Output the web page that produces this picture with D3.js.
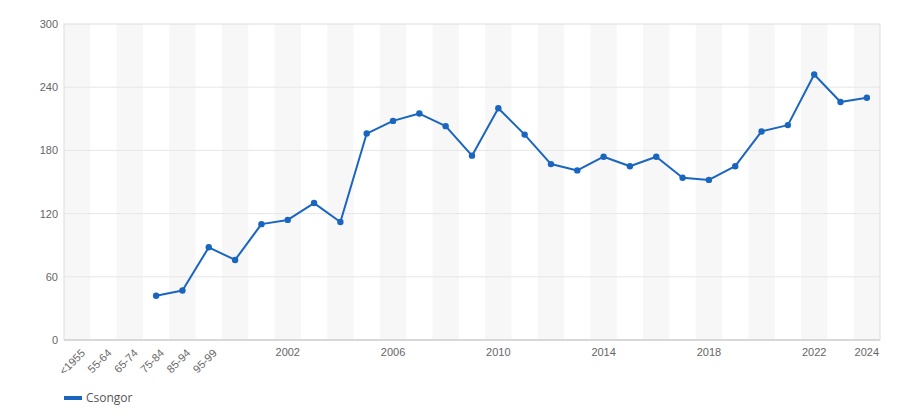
<!DOCTYPE html>
<html lang="en">
<head>
<meta charset="UTF-8">
<title>Csongor</title>
<script src="https://d3js.org/d3.v7.min.js"></script>
<style>
  body { margin: 0; background: #fff; font-family: "Open Sans", "Noto Sans", sans-serif; }
  .tick text { fill: #666; font-size: 11px; }
</style>
</head>
<body>
<div id="chart"></div>
<script>
// categories on the x axis
const categories = ["<1955", "55-64", "65-74", "75-84", "85-94", "95-99",
  "2000", "2001", "2002", "2003", "2004", "2005", "2006", "2007", "2008", "2009",
  "2010", "2011", "2012", "2013", "2014", "2015", "2016", "2017", "2018", "2019",
  "2020", "2021", "2022", "2023", "2024"];
// values per category (null = no data)
const values = [null, null, null, 42, 47, 88, 76, 110, 114, 130, 112, 196, 208, 215, 203, 175,
  220, 195, 167, 161, 174, 165, 174, 154, 152, 165, 198, 204, 252, 226, 230];
const xTickLabels = ["<1955", "55-64", "65-74", "75-84", "85-94", "95-99",
  "2002", "2006", "2010", "2014", "2018", "2022", "2024"];
const rotatedLabels = ["<1955", "55-64", "65-74", "75-84", "85-94", "95-99"];
const yTicks = [0, 60, 120, 180, 240, 300];
const seriesName = "Csongor";

const W = 900, H = 420;
const margin = {top: 24, right: 20, bottom: 80, left: 64};
const width = W - margin.left - margin.right,
      height = H - margin.top - margin.bottom;
const color = "#1a65c0";

const svg = d3.select("#chart").append("svg")
    .attr("width", W).attr("height", H);
const g = svg.append("g").attr("transform", `translate(${margin.left},${margin.top})`);

const x = d3.scaleBand().domain(categories).range([0, width]);
const y = d3.scaleLinear().domain([0, 300]).range([height, 0]);

// alternating background bands
g.selectAll("rect.band")
  .data(categories.filter((c, i) => i % 2 === 0))
  .join("rect")
  .attr("class", "band")
  .attr("x", d => x(d)).attr("y", 0)
  .attr("width", x.bandwidth()).attr("height", height)
  .attr("fill", "#f7f7f7");

// horizontal grid
g.selectAll("line.grid")
  .data(yTicks.slice(1, -1))
  .join("line")
  .attr("class", "grid")
  .attr("x1", 0).attr("x2", width)
  .attr("y1", d => y(d)).attr("y2", d => y(d))
  .attr("stroke", "#e6e6e6");

// frame
g.append("rect")
  .attr("x", 0).attr("y", 0).attr("width", width).attr("height", height)
  .attr("fill", "none").attr("stroke", "#ddd");
g.append("line")
  .attr("x1", 0).attr("x2", width).attr("y1", height).attr("y2", height)
  .attr("stroke", "#d8d8d8").attr("stroke-width", 2);

// y axis
const yAxis = g.append("g")
  .call(d3.axisLeft(y).tickValues(yTicks).tickSize(0).tickPadding(6));
yAxis.select(".domain").remove();

// x axis
const xAxis = g.append("g")
  .attr("transform", `translate(0,${height})`)
  .call(d3.axisBottom(x).tickValues(xTickLabels).tickSize(0).tickPadding(8));
xAxis.select(".domain").remove();
xAxis.selectAll(".tick text")
  .filter(d => rotatedLabels.includes(d))
  .attr("text-anchor", "end")
  .attr("x", 0).attr("y", 0)
  .attr("dy", "0.35em")
  .attr("transform", "translate(6,11) rotate(-45)");

// line + points
const pts = categories.map((c, i) => ({c, v: values[i]})).filter(d => d.v !== null);
const line = d3.line()
  .x(d => x(d.c) + x.bandwidth() / 2)
  .y(d => y(d.v));

g.append("path")
  .datum(pts)
  .attr("fill", "none")
  .attr("stroke", color)
  .attr("stroke-width", 2)
  .attr("stroke-linejoin", "round")
  .attr("d", line);

g.selectAll("circle.pt")
  .data(pts)
  .join("circle")
  .attr("class", "pt")
  .attr("cx", d => x(d.c) + x.bandwidth() / 2)
  .attr("cy", d => y(d.v))
  .attr("r", 3.2)
  .attr("fill", color);

// legend
const legend = svg.append("g").attr("transform", `translate(${margin.left},398)`);
legend.append("rect")
  .attr("x", 0).attr("y", -2).attr("width", 18).attr("height", 4)
  .attr("fill", color);
legend.append("text")
  .attr("x", 22).attr("y", 0).attr("dy", "0.35em")
  .attr("fill", "#555").style("font-size", "12px")
  .text(seriesName);
</script>
</body>
</html>
